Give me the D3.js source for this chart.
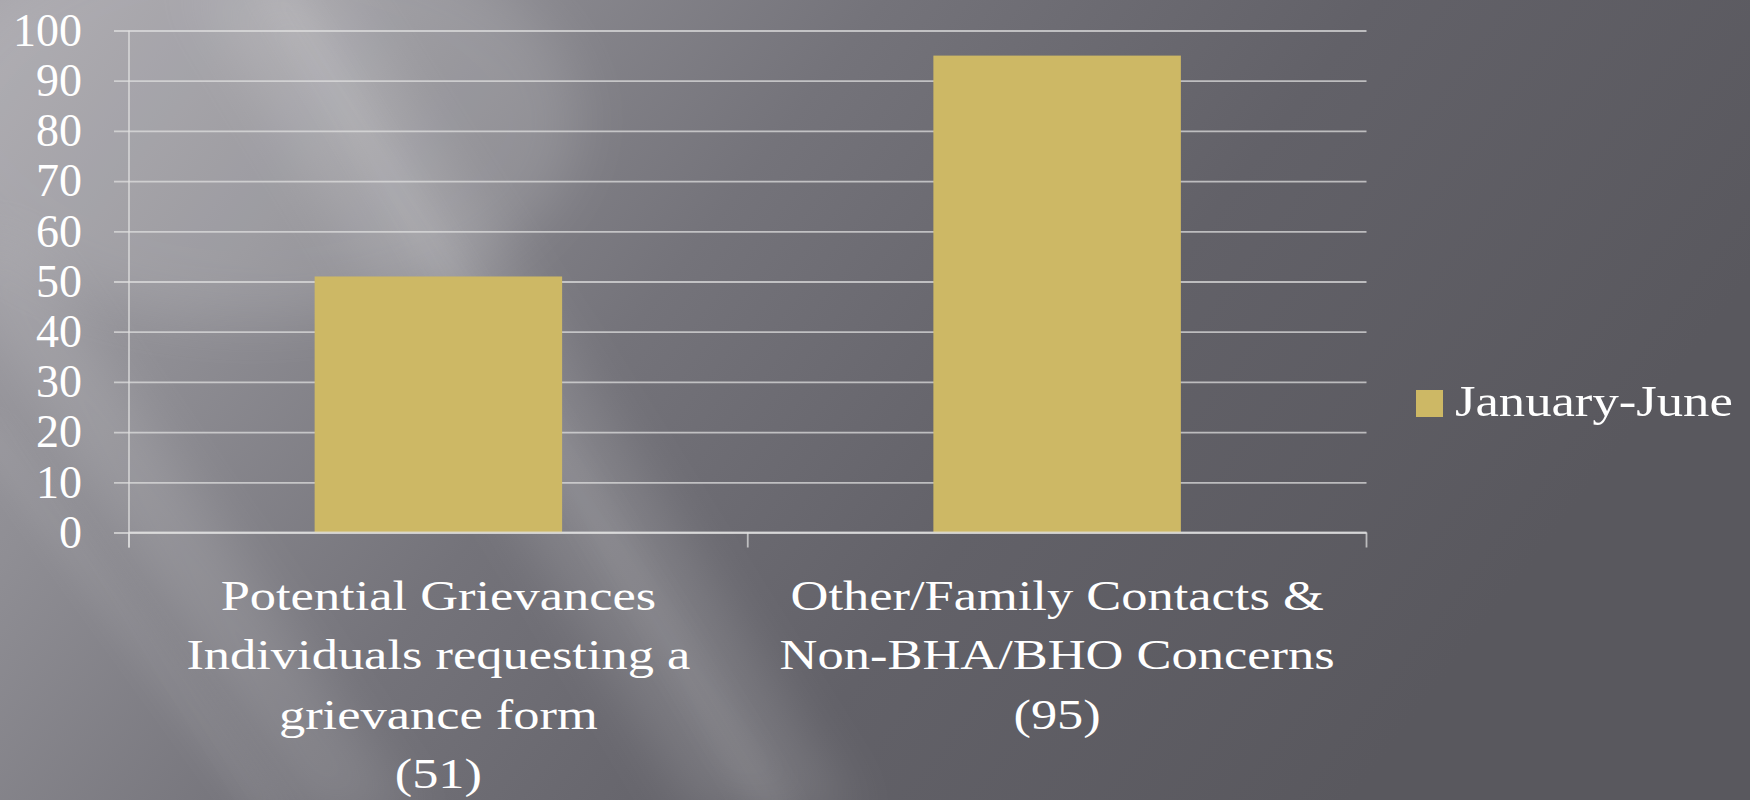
<!DOCTYPE html>
<html>
<head>
<meta charset="utf-8">
<script src="https://cdn.jsdelivr.net/npm/d3@7"></script>
<style>
  html, body { margin: 0; padding: 0; background: #5b5a60; }
  svg { display: block; }
  text { font-family: "Liberation Serif", "Times New Roman", serif; fill: #ffffff; }
</style>
</head>
<body>
<svg id="chart" width="1750" height="800"></svg>
<script>
// ---- data ----
const categories = ["Potential Grievances", "Other/Family Contacts"];
const categoryLines = [
  ["Potential Grievances", "Individuals requesting a", "grievance form", "(51)"],
  ["Other/Family Contacts &", "Non-BHA/BHO Concerns", "(95)"]
];
const seriesName = "January-June";
const values = [51, 95];
const yTicks = [0, 10, 20, 30, 40, 50, 60, 70, 80, 90, 100];

// ---- layout ----
const W = 1750, H = 800;
const plot = { left: 129, right: 1366.5, top: 30.5, bottom: 532.5 };
const barColor = "#cdb865";
const lineColor = "rgba(225,225,225,0.72)";

const svg = d3.select("#chart");
const defs = svg.append("defs");

// background
const bg = defs.append("linearGradient").attr("id", "bgGrad")
  .attr("x1", "0").attr("y1", "0").attr("x2", "1").attr("y2", "0.35");
[["0%", "#a4a2a8"], ["22%", "#8f8e94"], ["45%", "#74737a"], ["70%", "#626168"], ["100%", "#59585e"]]
  .forEach(([o, c]) => bg.append("stop").attr("offset", o).attr("stop-color", c));
defs.append("filter").attr("id", "blur").attr("x", "-50%").attr("y", "-50%").attr("width", "200%").attr("height", "200%")
  .append("feGaussianBlur").attr("stdDeviation", 28);
defs.append("filter").attr("id", "blur2").attr("x", "-50%").attr("y", "-50%").attr("width", "200%").attr("height", "200%")
  .append("feGaussianBlur").attr("stdDeviation", 14);

svg.append("rect").attr("width", W).attr("height", H).attr("fill", "url(#bgGrad)");
const streaks = svg.append("g");
// broad light glow top-left
streaks.append("ellipse").attr("cx", 250).attr("cy", 120).attr("rx", 330).attr("ry", 200)
  .attr("fill", "#ffffff").attr("opacity", 0.12).attr("filter", "url(#blur)");
// diagonal streaks
const streakDefs = [
  { pts: [[190, -20], [330, -20], [860, 820], [700, 820]], op: 0.13, f: "url(#blur)" },
  { pts: [[250, -20], [290, -20], [800, 820], [760, 820]], op: 0.07, f: "url(#blur2)" },
  { pts: [[-60, 240], [20, 240], [420, 820], [300, 820]], op: 0.12, f: "url(#blur)" },
  { pts: [[-40, 420], [0, 420], [300, 820], [250, 820]], op: 0.06, f: "url(#blur2)" }
];
streakDefs.forEach(s => streaks.append("polygon")
  .attr("points", s.pts.map(p => p.join(",")).join(" "))
  .attr("fill", "#ffffff").attr("opacity", s.op).attr("filter", s.f));

// ---- scales ----
const x = d3.scaleBand().domain(categories).range([plot.left, plot.right]).paddingInner(0).paddingOuter(0);
const y = d3.scaleLinear().domain([0, 100]).range([plot.bottom, plot.top]);
const barW = x.bandwidth() * 0.4;

// y axis with gridlines (ticks span full width, extend 15px left of axis)
const gridG = svg.append("g").attr("transform", `translate(${plot.right},0)`)
  .call(d3.axisLeft(y).tickValues(yTicks).tickSize(plot.right - plot.left + 15).tickPadding(32).tickFormat(d3.format("d")));
gridG.select(".domain").remove();
gridG.selectAll(".tick line").attr("stroke", lineColor).attr("stroke-width", 1.8);
gridG.selectAll(".tick text")
  .attr("fill", "#ffffff").attr("font-size", 46).attr("dy", "0.32em")
  .style("font-family", '"Liberation Serif", serif');

// vertical y-axis line
svg.append("line").attr("x1", plot.left).attr("x2", plot.left)
  .attr("y1", y(100)).attr("y2", plot.bottom + 15)
  .attr("stroke", lineColor).attr("stroke-width", 1.8);

// bars
svg.append("g").selectAll("rect").data(values).join("rect")
  .attr("x", (d, i) => x(categories[i]) + (x.bandwidth() - barW) / 2)
  .attr("y", d => y(d))
  .attr("width", barW)
  .attr("height", d => y(0) - y(d))
  .attr("fill", barColor);

// x axis line and boundary ticks
svg.append("line").attr("x1", plot.left).attr("x2", plot.right)
  .attr("y1", y(0)).attr("y2", y(0))
  .attr("stroke", lineColor).attr("stroke-width", 1.8);
const boundaries = categories.map(c => x(c)).concat([x(categories[categories.length - 1]) + x.bandwidth()]);
svg.append("g").selectAll("line").data(boundaries).join("line")
  .attr("x1", d => d).attr("x2", d => d)
  .attr("y1", y(0)).attr("y2", y(0) + 15)
  .attr("stroke", lineColor).attr("stroke-width", 1.8);

// category labels (multi-line)
const catFont = 43, catScaleX = 1.22, catLineH = 59.6, catFirstBase = 609.5;
categories.forEach((c, i) => {
  const cx = x(c) + x.bandwidth() / 2;
  categoryLines[i].forEach((line, j) => {
    svg.append("text")
      .attr("transform", `translate(${cx},${catFirstBase + j * catLineH}) scale(${catScaleX},1)`)
      .attr("text-anchor", "middle")
      .attr("font-size", catFont)
      .text(line);
  });
});

// legend
const lg = svg.append("g");
lg.append("rect").attr("x", 1416).attr("y", 390).attr("width", 27).attr("height", 27).attr("fill", barColor);
lg.append("text")
  .attr("transform", `translate(1455,415.5) scale(1.17,1)`)
  .attr("font-size", 45)
  .text(seriesName);
</script>
</body>
</html>
